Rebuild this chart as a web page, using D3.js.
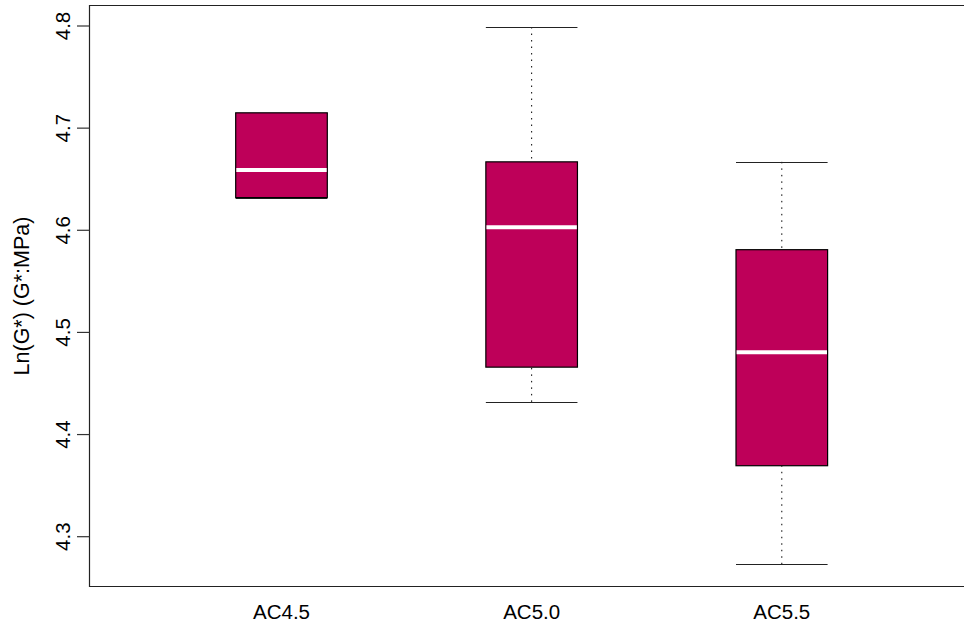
<!DOCTYPE html>
<html>
<head>
<meta charset="utf-8">
<script src="https://cdn.jsdelivr.net/npm/d3@7"></script>
<style>
  html, body { margin: 0; padding: 0; background: #fff; }
  svg { display: block; }
  text { font-family: "Liberation Sans", Arial, Helvetica, sans-serif; fill: #000; }
</style>
</head>
<body>
<svg id="chart" width="964" height="627"></svg>
<script>
// Five-number summaries per group
const categories   = ["AC4.5", "AC5.0", "AC5.5"];
const lowerWhisker = [4.632, 4.432, 4.273];
const q1           = [4.632, 4.466, 4.3695];
const median       = [4.659, 4.603, 4.4805];
const q3           = [4.715, 4.667, 4.581];
const upperWhisker = [4.715, 4.799, 4.667];
const yTicks       = [4.3, 4.4, 4.5, 4.6, 4.7, 4.8];
const yTitle       = "Ln(G*) (G*:MPa)";

const svg = d3.select("#chart");

// Plot frame
const frame = { left: 89.5, top: 5.5, right: 975, bottom: 586.5 };

const y = d3.scaleLinear().domain([4.3, 4.8]).range([536.7, 26]);
const x = d3.scaleLinear().domain([1, 3]).range([281.5, 781.8]);
const boxHalf = 45.8;
const fill = "#BE0059";

const data = categories.map((c, i) => ({
  c, pos: i + 1,
  lo: lowerWhisker[i], q1: q1[i], med: median[i], q3: q3[i], hi: upperWhisker[i]
}));

const g = svg.append("g");

// Whiskers (dotted)
g.selectAll(".whisk-up").data(data).join("line")
  .attr("x1", d => x(d.pos)).attr("x2", d => x(d.pos))
  .attr("y1", d => y(d.hi)).attr("y2", d => y(d.q3))
  .attr("stroke", "#000").attr("stroke-width", 1)
  .attr("stroke-dasharray", "1.5,5");
g.selectAll(".whisk-lo").data(data).join("line")
  .attr("x1", d => x(d.pos)).attr("x2", d => x(d.pos))
  .attr("y1", d => y(d.lo)).attr("y2", d => y(d.q1))
  .attr("stroke", "#000").attr("stroke-width", 1)
  .attr("stroke-dasharray", "1.5,5");

// Staples
["hi", "lo"].forEach(k => {
  g.selectAll(".staple-" + k).data(data).join("line")
    .attr("x1", d => x(d.pos) - boxHalf).attr("x2", d => x(d.pos) + boxHalf)
    .attr("y1", d => Math.round(y(d[k])) + 0.5).attr("y2", d => Math.round(y(d[k])) + 0.5)
    .attr("stroke", "#222").attr("stroke-width", 1.2);
});

// Boxes
g.selectAll(".box").data(data).join("rect")
  .attr("x", d => x(d.pos) - boxHalf)
  .attr("width", boxHalf * 2)
  .attr("y", d => y(d.q3))
  .attr("height", d => y(d.q1) - y(d.q3))
  .attr("fill", fill)
  .attr("stroke", "#000").attr("stroke-width", 1.2);

// Medians
g.selectAll(".med").data(data).join("line")
  .attr("x1", d => x(d.pos) - boxHalf + 0.6).attr("x2", d => x(d.pos) + boxHalf - 0.6)
  .attr("y1", d => y(d.med)).attr("y2", d => y(d.med))
  .attr("stroke", "#fff").attr("stroke-width", 4);

// Frame
svg.append("path")
  .attr("d", `M${frame.right},${frame.top}H${frame.left}V${frame.bottom}H${frame.right}`)
  .attr("fill", "none").attr("stroke", "#222").attr("stroke-width", 1.2);

// Y axis ticks and labels
const yAxis = svg.append("g");
yAxis.selectAll("line").data(yTicks).join("line")
  .attr("x1", 77).attr("x2", frame.left)
  .attr("y1", d => y(d)).attr("y2", d => y(d))
  .attr("stroke", "#333").attr("stroke-width", 1.2);
yAxis.selectAll("text").data(yTicks).join("text")
  .attr("transform", d => `translate(69.5,${y(d)}) rotate(-90)`)
  .attr("text-anchor", "middle")
  .attr("font-size", 20.5)
  .text(d => d3.format(".1f")(d));

// X labels
svg.append("g").selectAll("text").data(data).join("text")
  .attr("x", d => x(d.pos)).attr("y", 619)
  .attr("text-anchor", "middle")
  .attr("font-size", 20.5)
  .text(d => d.c);

// Y title
svg.append("text")
  .attr("transform", `translate(28.5,${(frame.top + frame.bottom) / 2}) rotate(-90)`)
  .attr("text-anchor", "middle")
  .attr("font-size", 21.5)
  .text(yTitle);
</script>
</body>
</html>
